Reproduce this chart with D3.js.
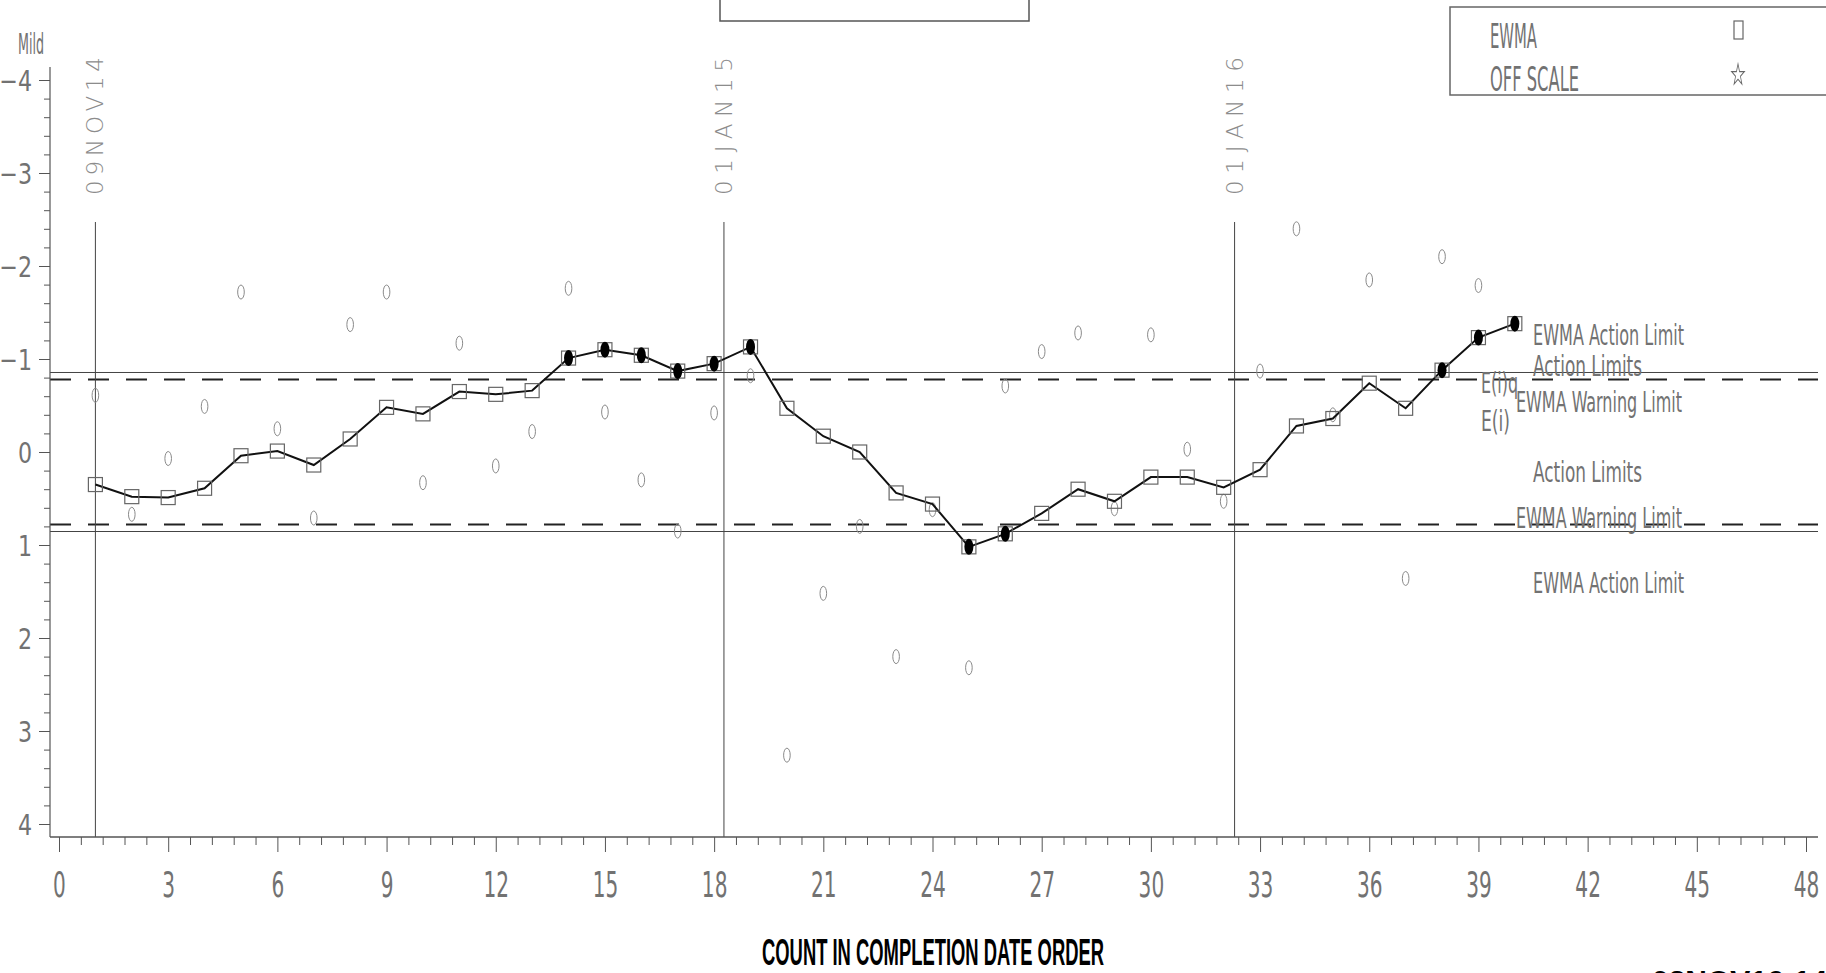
<!DOCTYPE html>
<html>
<head>
<meta charset="utf-8">
<script src="https://cdn.jsdelivr.net/npm/d3@7"></script>
<style>
  body { margin: 0; background: #fff; }
  svg { display: block; }
  .thin { font-family: "Liberation Sans Narrow", "DejaVu Sans Condensed", "Liberation Sans", sans-serif; fill: #727272; }
</style>
</head>
<body>
<div id="chart"></div>
<script>
// EWMA values in completion-date order (counts 1..40)
const counts = d3.range(1, 41);
const ewma = [
  0.35, 0.48, 0.49, 0.39, 0.04, -0.01, 0.14, -0.14, -0.48, -0.41,
  -0.65, -0.62, -0.66, -1.01, -1.10, -1.04, -0.87, -0.95, -1.13, -0.47,
  -0.17, 0.00, 0.44, 0.56, 1.02, 0.88, 0.66, 0.40, 0.53, 0.27,
  0.27, 0.38, 0.19, -0.28, -0.36, -0.74, -0.47, -0.88, -1.23, -1.38
];
// individual observations ("0" markers); null where not visible
const obs = [
  -0.61, 0.67, 0.07, -0.49, -1.72, -0.25, 0.71, -1.37, -1.72, 0.33,
  -1.17, 0.15, -0.22, -1.76, -0.43, 0.30, 0.85, -0.42, -0.82, 3.26,
  1.52, 0.80, 2.20, 0.62, 2.32, -0.71, -1.08, -1.28, 0.61, -1.26,
  -0.03, 0.53, -0.87, -2.40, -0.40, -1.85, 1.36, -2.10, -1.79, null
];
const actionLimit = 0.855;
const warningLimit = 0.78;

const yTicks = [-4, -3, -2, -1, 0, 1, 2, 3, 4];
const xTicks = d3.range(0, 49, 3);

const refDates = [
  { pos: 1, label: "09NOV14" },
  { pos: 18.27, label: "01JAN15" },
  { pos: 32.3, label: "01JAN16" }
];

const limitLabels = [
  { text: "EWMA Action Limit", x: 40.5, v: -1.15, len: 151 },
  { text: "Action Limits", x: 40.5, v: -0.815, len: 109 },
  { text: "E(i)q", x: 39.07, v: -0.63, len: 37 },
  { text: "EWMA Warning Limit", x: 40.03, v: -0.43, len: 166 },
  { text: "E(i)", x: 39.07, v: -0.23, len: 29 },
  { text: "Action Limits", x: 40.5, v: 0.32, len: 109 },
  { text: "EWMA Warning Limit", x: 40.03, v: 0.82, len: 166 },
  { text: "EWMA Action Limit", x: 40.5, v: 1.52, len: 151 }
];

const legendItems = ["EWMA", "OFF SCALE"];

const width = 1826;
const height = 973;

const svg = d3.select("#chart")
  .append("svg")
  .attr("width", width)
  .attr("height", height);

const x = d3.scaleLinear().domain([0, 48]).range([59, 1806]);
const y = d3.scaleLinear().domain([-4, 4]).range([80, 824]);

const axisX = 50;
const axisY = 837;

// squeeze tick labels horizontally, keeping them on their tick
function squeeze(sel, k) {
  sel.each(function () {
    const t = d3.select(this);
    const x0 = +(t.attr("x") || 0);
    t.attr("x", x0 / k).attr("transform", `scale(${k},1)`);
  });
}

// reference lines (action = solid, warning = dashed)
[-actionLimit, actionLimit].forEach((v) => {
  svg.append("line")
    .attr("x1", axisX).attr("x2", 1818)
    .attr("y1", y(v)).attr("y2", y(v))
    .attr("stroke", "#444").attr("stroke-width", 1);
});
[-warningLimit, warningLimit].forEach((v) => {
  svg.append("line")
    .attr("x1", axisX).attr("x2", 1818)
    .attr("y1", y(v)).attr("y2", y(v))
    .attr("stroke", "#222").attr("stroke-width", 2)
    .attr("stroke-dasharray", "21,17");
});

// date reference lines
refDates.forEach((d) => {
  svg.append("line")
    .attr("x1", x(d.pos)).attr("x2", x(d.pos))
    .attr("y1", 222).attr("y2", axisY)
    .attr("stroke", "#444").attr("stroke-width", 1);
  svg.append("text")
    .attr("transform", `translate(${x(d.pos) + 8},195) rotate(-90)`)
    .attr("font-family", "DejaVu Sans, sans-serif")
    .attr("font-size", 23)
    .attr("font-weight", 200)
    .attr("fill", "#8c8c8c")
    .attr("textLength", 138)
    .attr("lengthAdjust", "spacing")
    .text(d.label);
});

// y axis
const yAxisG = svg.append("g").attr("transform", `translate(${axisX},0)`);
yAxisG.call(
  d3.axisLeft(y)
    .tickValues(yTicks)
    .tickSize(11)
    .tickPadding(7)
    .tickFormat((d) => (d < 0 ? "\u2212" + Math.abs(d) : d))
);
yAxisG.append("g").call(
  d3.axisLeft(y)
    .tickValues(d3.range(-4, 4.01, 0.2).filter((d) => Math.abs(d - Math.round(d)) > 0.01))
    .tickSize(6)
    .tickFormat("")
);
yAxisG.selectAll(".domain").remove();
yAxisG.selectAll(".tick line").attr("stroke", "#555");
yAxisG.selectAll(".tick text")
  .attr("class", "thin")
  .attr("font-size", 29)
  .attr("dy", "0.36em")
  .call(squeeze, 0.85);
yAxisG.append("line")
  .attr("y1", 67).attr("y2", axisY)
  .attr("stroke", "#555").attr("stroke-width", 1.2);

// x axis
const xAxisG = svg.append("g").attr("transform", `translate(0,${axisY})`);
xAxisG.call(
  d3.axisBottom(x)
    .tickValues(xTicks)
    .tickSize(15)
    .tickPadding(19)
);
xAxisG.append("g").call(
  d3.axisBottom(x)
    .tickValues(d3.range(0, 48.01, 0.6).filter((d) => Math.abs(d / 3 - Math.round(d / 3)) > 0.01))
    .tickSize(8)
    .tickFormat("")
);
xAxisG.selectAll(".domain").remove();
xAxisG.selectAll(".tick line").attr("stroke", "#555");
xAxisG.selectAll(".tick text")
  .attr("class", "thin")
  .attr("font-size", 36)
  .call(squeeze, 0.62);
xAxisG.append("line")
  .attr("x1", axisX).attr("x2", 1818)
  .attr("stroke", "#555").attr("stroke-width", 1.5);

svg.append("text")
  .attr("class", "thin")
  .attr("x", 18).attr("y", 54)
  .attr("font-size", 29)
  .attr("textLength", 26)
  .attr("lengthAdjust", "spacingAndGlyphs")
  .text("Mild");

// individual observations
svg.append("g")
  .selectAll("ellipse")
  .data(counts.filter((c, i) => obs[i] !== null))
  .join("ellipse")
  .attr("cx", (c) => x(c))
  .attr("cy", (c) => y(obs[c - 1]))
  .attr("rx", 3.3)
  .attr("ry", 7)
  .attr("fill", "none")
  .attr("stroke", "#8a8a8a")
  .attr("stroke-width", 1);

// EWMA line
const line = d3.line()
  .x((c) => x(c))
  .y((c) => y(ewma[c - 1]));

svg.append("path")
  .datum(counts)
  .attr("d", line)
  .attr("fill", "none")
  .attr("stroke", "#111")
  .attr("stroke-width", 2);

svg.append("g")
  .selectAll("rect")
  .data(counts)
  .join("rect")
  .attr("x", (c) => x(c) - 7)
  .attr("y", (c) => y(ewma[c - 1]) - 7)
  .attr("width", 14)
  .attr("height", 14)
  .attr("fill", "none")
  .attr("stroke", "#666")
  .attr("stroke-width", 1.2);

// out-of-control points
svg.append("g")
  .selectAll("ellipse")
  .data(counts.filter((c) => Math.abs(ewma[c - 1]) > actionLimit))
  .join("ellipse")
  .attr("cx", (c) => x(c))
  .attr("cy", (c) => y(ewma[c - 1]))
  .attr("rx", 4.5)
  .attr("ry", 8)
  .attr("fill", "#000");

// limit labels on the right
svg.append("g")
  .selectAll("text")
  .data(limitLabels)
  .join("text")
  .attr("class", "thin")
  .attr("x", (d) => x(d.x))
  .attr("y", (d) => y(d.v))
  .attr("font-size", 28)
  .attr("textLength", (d) => d.len)
  .attr("lengthAdjust", "spacingAndGlyphs")
  .text((d) => d.text);

// legend
const legend = svg.append("g");
legend.append("rect")
  .attr("x", 1450).attr("y", 7)
  .attr("width", 420).attr("height", 88)
  .attr("fill", "none")
  .attr("stroke", "#666").attr("stroke-width", 1.5);
legend.selectAll("text.item")
  .data(legendItems)
  .join("text")
  .attr("class", "thin item")
  .attr("x", 1490)
  .attr("y", (d, i) => 48 + i * 43)
  .attr("font-size", 33)
  .attr("textLength", (d, i) => (i === 0 ? 47 : 89))
  .attr("lengthAdjust", "spacingAndGlyphs")
  .text((d) => d);
legend.append("rect")
  .attr("x", 1734).attr("y", 21)
  .attr("width", 9).attr("height", 18)
  .attr("fill", "none")
  .attr("stroke", "#666").attr("stroke-width", 1.2);
legend.append("path")
  .attr("d", d3.symbol(d3.symbolStar, 90)())
  .attr("transform", "translate(1738,75) scale(0.75,1.25)")
  .attr("fill", "none")
  .attr("stroke", "#666").attr("stroke-width", 1);

// empty title frame at top
svg.append("rect")
  .attr("x", 720).attr("y", -10)
  .attr("width", 309).attr("height", 31)
  .attr("fill", "none")
  .attr("stroke", "#555").attr("stroke-width", 1.5);

// axis title and timestamp
svg.append("text")
  .attr("x", 762).attr("y", 965)
  .attr("font-family", "Liberation Sans Narrow, Liberation Sans, sans-serif")
  .attr("font-weight", "bold")
  .attr("font-size", 37)
  .attr("textLength", 342)
  .attr("lengthAdjust", "spacingAndGlyphs")
  .attr("fill", "#000")
  .text("COUNT IN COMPLETION DATE ORDER");

svg.append("text")
  .attr("x", 1652).attr("y", 991)
  .attr("font-family", "Liberation Sans, sans-serif")
  .attr("font-weight", "bold")
  .attr("font-size", 30)
  .attr("fill", "#000")
  .text("03NOV16:14:57");
</script>
</body>
</html>
